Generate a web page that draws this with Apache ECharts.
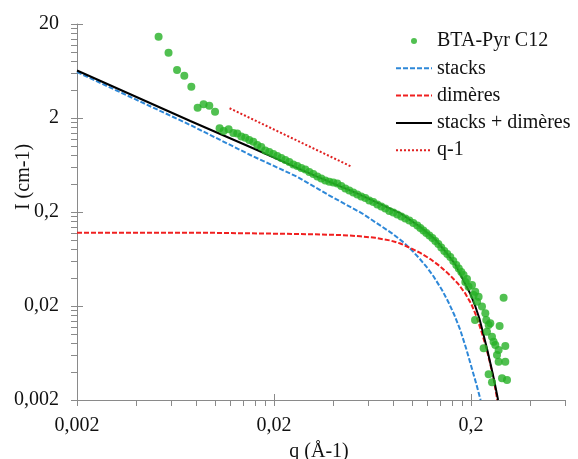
<!DOCTYPE html>
<html><head><meta charset="utf-8">
<script src="https://cdn.jsdelivr.net/npm/echarts@6/dist/echarts.min.js"></script>
<style>html,body{margin:0;padding:0;background:#fff}#c{width:578px;height:459px}</style>
</head><body><div id="c"></div>
<script>
// Measured data: BTA-Pyr C12
const measQ = [0.00519,0.00583,0.00644,0.00701,0.00761,0.00819,0.00878,0.00939,0.01004,0.01059,
0.0111,0.01177,0.01243,0.01302,0.01365,0.0143,0.01498,0.0157,0.01645,0.01724,
0.01806,0.01893,0.01984,0.02078,0.02178,0.02282,0.02392,0.02506,0.02626,0.02752,
0.02884,0.03022,0.03166,0.03318,0.03477,0.03643,0.03818,0.0400,0.04192,0.04392,
0.04602,0.04822,0.05052,0.05294,0.05547,0.05813,0.06091,0.06383,0.0669,0.0701,
0.07345,0.07697,0.08066,0.08452,0.08857,0.0928,0.09725,0.1019,0.1068,0.1106,
0.1146,0.1186,0.1229,0.1273,0.1318,0.1365,0.1413,0.1464,0.1516,0.157,
0.1626,0.1684,0.1734,0.1786,0.1834,0.1871,0.1908,0.1944,0.2024,0.2062,
0.2096,0.2102,0.2146,0.2186,0.2274,0.2318,0.2364,0.2392,0.241,0.2458,
0.2458,0.2506,0.2556,0.2556,0.2604,0.2658,0.271,0.2762,0.2762,0.2794,
0.2874,0.2928,0.2986,0.2986,0.3046];
const measI = [14.66,9.90,6.48,5.64,4.31,2.57,2.80,2.70,2.33,1.554,
1.454,1.516,1.385,1.368,1.271,1.234,1.167,1.119,1.032,0.983,
0.902,0.870,0.828,0.788,0.751,0.715,0.681,0.640,0.617,0.588,
0.566,0.533,0.507,0.477,0.454,0.433,0.420,0.412,0.402,0.378,
0.356,0.339,0.322,0.307,0.292,0.282,0.265,0.256,0.240,0.229,
0.218,0.205,0.198,0.188,0.179,0.171,0.162,0.153,0.1437,0.1352,
0.1271,0.1196,0.1125,0.1058,0.0983,0.0913,0.0838,0.0769,0.0715,0.0664,
0.0602,0.0546,0.0501,0.046,0.0427,0.036,0.0388,0.0321,0.0335,0.0262,
0.0142,0.0284,0.0222,0.0251,0.0197,0.0071,0.0167,0.0142,0.01066,0.01256,
0.00375,0.0131,0.00943,0.00309,0.00834,0.0077,0.00602,0.00511,0.0068,0.01226,
0.0034,0.0245,0.0075,0.00511,0.00326];

// Model: stacks
const stacksQ = [0.002,0.00752,0.01516,0.02618,0.03786,0.0559,0.0794,0.091,0.1004,0.1106,0.1196,0.1292,0.1425,0.1534,0.1646,0.1765,0.1893,0.2031,0.2128,0.2238];
const stacksI = [6.17,1.685,0.808,0.475,0.303,0.1938,0.1187,0.0948,0.0779,0.0625,0.0514,0.0412,0.0296,0.0221,0.01605,0.0111,0.00697,0.00417,0.00296,0.002];
// Model: dimères
const dimQ = [0.002,0.01,0.0272,0.0434,0.0548,0.0653,0.0779,0.0875,0.0984,0.1106,0.1243,0.1397,0.157,0.1724,0.1871,0.2007,0.2128,0.2256,0.2392,0.2506,0.261,0.272];
const dimI = [0.12,0.12,0.1167,0.1139,0.1103,0.1063,0.0995,0.0925,0.0828,0.0733,0.0632,0.0526,0.0422,0.0343,0.0272,0.021,0.01566,0.01084,0.00715,0.00483,0.00326,0.002];
// Model: stacks + dimères
const sumQ = [0.002,0.00752,0.01608,0.0331,0.0528,0.0875,0.1106,0.1318,0.1481,0.1665,0.1828,0.1984,0.2102,0.2204,0.231,0.242,0.252,0.2626,0.2745];
const sumI = [6.4,1.86,0.93,0.475,0.316,0.1937,0.1385,0.102,0.076,0.0554,0.0378,0.027,0.0199,0.0148,0.01007,0.0068,0.00471,0.00319,0.002];
// q^-1 guide
const slopeQ = [0.0119,0.0495];
const slopeI = [2.54,0.607];

// Axis ticks / labels
const xTicks = [0.002,0.02,0.2];
const xTickLabels = ['0,002','0,02','0,2'];
const yTicks = [0.002,0.02,0.2,2,20];
const yTickLabels = ['0,002','0,02','0,2','2','20'];
const minorMult = [2,3,4,5,6,7,8,9];
const X_MIN = 0.002, X_MAX = 0.6, Y_MIN = 0.002, Y_MAX = 20;

const zip = (a,b) => a.map((v,i)=>[v,b[i]]);
// tick mark data: [x, y, isMajor, labelIndex]
const xTickData = [];
xTicks.forEach((d,k)=>{ xTickData.push([d, Y_MIN, 1, k]); minorMult.forEach(m=>{ const v=d*m; if (v<=X_MAX*1.0001) xTickData.push([v, Y_MIN, 0, -1]); }); });
const yTickData = [];
yTicks.forEach((d,k)=>{ yTickData.push([X_MIN, d, 1, k]); if (d<Y_MAX) minorMult.forEach(m=>{ yTickData.push([X_MIN, d*m, 0, -1]); }); });

const FONT = 'Liberation Serif';
const FONTCSS = '20px "Liberation Serif"';
const AXC = '#8a8a8a';
const TXT = '#111111';
const chart = echarts.init(document.getElementById('c'), null, {renderer:'canvas'});
const noIcon = {opacity:0, borderWidth:0};
chart.setOption({
  animation:false,
  backgroundColor:'#ffffff',
  grid:{left:77, top:24, width:488, height:376, containLabel:false},
  xAxis:{type:'log', logBase:10, min:X_MIN, max:X_MAX,
    axisLine:{lineStyle:{color:AXC,width:1}}, axisTick:{show:false}, splitLine:{show:false}, minorTick:{show:false},
    axisLabel:{show:false}},
  yAxis:{type:'log', logBase:10, min:Y_MIN, max:Y_MAX,
    axisLine:{lineStyle:{color:AXC,width:1}}, axisTick:{show:false}, splitLine:{show:false}, minorTick:{show:false},
    axisLabel:{show:false}},
  legend:{orient:'vertical', left:390, top:26, itemWidth:36, itemHeight:6, itemGap:7.3,
    textStyle:{fontFamily:FONT, fontSize:20, color:TXT},
    data:[{name:'BTA-Pyr C12', icon:'circle'},
      {name:'stacks', itemStyle:noIcon},
      {name:'dimères', itemStyle:noIcon},
      {name:'stacks + dimères', itemStyle:noIcon},
      {name:'q-1', itemStyle:noIcon}]},
  graphic:[
    {type:'text', x:24, y:177, rotation:Math.PI/2,
      style:{text:'I (cm-1)', font:FONTCSS, fill:TXT, align:'center', verticalAlign:'middle'}},
    {type:'text', x:319, y:452,
      style:{text:'q (Å-1)', font:FONTCSS, fill:TXT, align:'center', verticalAlign:'middle'}}
  ],
  series:[
    {name:'BTA-Pyr C12', type:'scatter', data:zip(measQ,measI), symbol:'circle', symbolSize:8,
      itemStyle:{color:'#25b025'}, z:5},
    {name:'stacks', type:'line', data:zip(stacksQ,stacksI), symbol:'none',
      lineStyle:{color:'#2e88d8', width:2, type:[5,2]}, itemStyle:{color:'#2e88d8'}, z:2},
    {name:'dimères', type:'line', data:zip(dimQ,dimI), symbol:'none',
      lineStyle:{color:'#f02020', width:2, type:[5,2]}, itemStyle:{color:'#f02020'}, z:2},
    {name:'stacks + dimères', type:'line', data:zip(sumQ,sumI), symbol:'none',
      lineStyle:{color:'#000000', width:2}, itemStyle:{color:'#000000'}, z:3},
    {name:'q-1', type:'line', data:zip(slopeQ,slopeI), symbol:'none',
      lineStyle:{color:'#e02020', width:2, type:[2,2]}, itemStyle:{color:'#e02020'}, z:4},
    {type:'custom', silent:true, clip:false, data:xTickData, z:6,
      renderItem:function(params, api){
        const p = api.coord([api.value(0), api.value(1)]);
        const x = Math.round(p[0])+0.5;
        const major = api.value(2) === 1;
        const children = [{type:'line', shape:{x1:x, y1:p[1]-(major?6:0), x2:x, y2:p[1]+6}, style:{stroke:AXC, lineWidth:1}}];
        if (major) children.push({type:'text', x:p[0], y:p[1]+26,
          style:{text:xTickLabels[api.value(3)], font:FONTCSS, fill:TXT, align:'center', verticalAlign:'middle'}});
        return {type:'group', children:children};
      }},
    {type:'custom', silent:true, clip:false, data:yTickData, z:6,
      renderItem:function(params, api){
        const p = api.coord([api.value(0), api.value(1)]);
        const y = Math.round(p[1])+0.5;
        const major = api.value(2) === 1;
        const children = [{type:'line', shape:{x1:p[0]-6, y1:y, x2:p[0]+(major?6:0), y2:y}, style:{stroke:AXC, lineWidth:1}}];
        if (major) children.push({type:'text', x:p[0]-18, y:p[1],
          style:{text:yTickLabels[api.value(3)], font:FONTCSS, fill:TXT, align:'right', verticalAlign:'middle'}});
        return {type:'group', children:children};
      }}
  ]
});
</script></body></html>
